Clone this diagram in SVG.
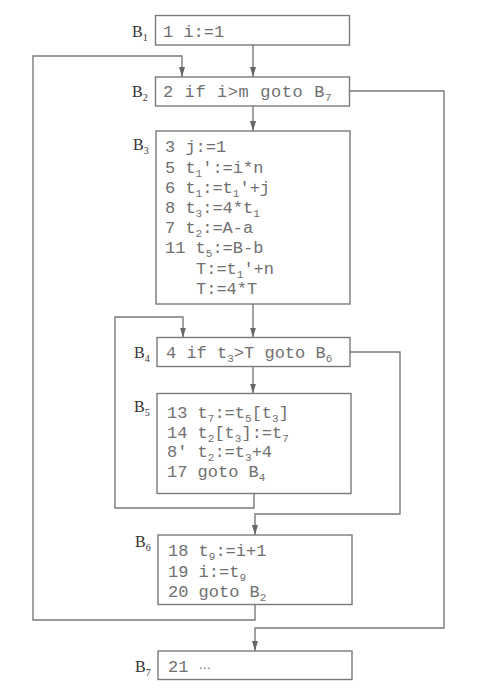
<svg xmlns="http://www.w3.org/2000/svg" width="486" height="688" viewBox="0 0 486 688">
<defs>
<marker id="ah" viewBox="0 0 10 6" refX="10" refY="3" markerWidth="10" markerHeight="6" markerUnits="userSpaceOnUse" orient="auto">
<path d="M0,0 L10,3 L0,6 Z" fill="#666"/>
</marker>
<style>
.box{fill:#fff;stroke:#7a7a7a;stroke-width:1.4}
.c{fill:none;stroke:#7a7a7a;stroke-width:1.4}
.code{font-family:"Liberation Mono","DejaVu Sans Mono",monospace;font-size:17px;fill:#707070}
.lab{font-family:"Liberation Serif","DejaVu Serif",serif;font-size:16px;fill:#333}
.s{font-size:11px;baseline-shift:-4px}
.ls{font-size:10px;baseline-shift:-4px}
.ell{font-family:"DejaVu Sans",sans-serif;font-size:12px}
</style>
</defs>
<rect width="486" height="688" fill="#fff"/>
<g id="connectors">
<path class="c" d="M253,45 V77" marker-end="url(#ah)"/>
<path class="c" d="M255,604.5 V620 H33 V56 H182 V77" marker-end="url(#ah)"/>
<path class="c" d="M253,106 V131" marker-end="url(#ah)"/>
<path class="c" d="M349.5,91 H444 V628 H255 V651" marker-end="url(#ah)"/>
<path class="c" d="M253,304 V337.5" marker-end="url(#ah)"/>
<path class="c" d="M254,493.5 V508 H115 V317 H183 V337.5" marker-end="url(#ah)"/>
<path class="c" d="M253,367 V393.5" marker-end="url(#ah)"/>
<path class="c" d="M350,352 H400 V514 H255 V535" marker-end="url(#ah)"/>
</g>
<g id="B1">
<rect class="box" x="155.5" y="15.5" width="194" height="29.5"/>
<text class="lab" x="132" y="37">B<tspan class="ls">1</tspan></text>
<text class="code" x="163" y="37">1 i:=1</text>
</g>
<g id="B2">
<rect class="box" x="155.5" y="77" width="194" height="29"/>
<text class="lab" x="132" y="97">B<tspan class="ls">2</tspan></text>
<text class="code" x="163" y="97" letter-spacing="0.6">2 if i&gt;m goto B<tspan class="s">7</tspan></text>
</g>
<g id="B3">
<rect class="box" x="156" y="131" width="194" height="173"/>
<text class="lab" x="133" y="150">B<tspan class="ls">3</tspan></text>
<text class="code" x="165" y="152">3 j:=1</text>
<text class="code" x="165" y="172.5">5 t<tspan class="s">1</tspan>':=i*n</text>
<text class="code" x="165" y="192.5">6 t<tspan class="s">1</tspan>:=t<tspan class="s">1</tspan>'+j</text>
<text class="code" x="165" y="213">8 t<tspan class="s">3</tspan>:=4*t<tspan class="s">1</tspan></text>
<text class="code" x="165" y="233">7 t<tspan class="s">2</tspan>:=A-a</text>
<text class="code" x="165" y="253">11 t<tspan class="s">5</tspan>:=B-b</text>
<text class="code" x="196" y="273.5">T:=t<tspan class="s">1</tspan>'+n</text>
<text class="code" x="196" y="294">T:=4*T</text>
</g>
<g id="B4">
<rect class="box" x="157" y="337.5" width="193" height="29"/>
<text class="lab" x="134" y="358">B<tspan class="ls">4</tspan></text>
<text class="code" x="166" y="358">4 if t<tspan class="s">3</tspan>&gt;T goto B<tspan class="s">6</tspan></text>
</g>
<g id="B5">
<rect class="box" x="157" y="393.5" width="194" height="100"/>
<text class="lab" x="134" y="411.5">B<tspan class="ls">5</tspan></text>
<text class="code" x="167" y="418">13 t<tspan class="s">7</tspan>:=t<tspan class="s">5</tspan>[t<tspan class="s">3</tspan>]</text>
<text class="code" x="167" y="437.5">14 t<tspan class="s">2</tspan>[t<tspan class="s">3</tspan>]:=t<tspan class="s">7</tspan></text>
<text class="code" x="167" y="457">8' t<tspan class="s">2</tspan>:=t<tspan class="s">3</tspan>+4</text>
<text class="code" x="167" y="477">17 goto B<tspan class="s">4</tspan></text>
</g>
<g id="B6">
<rect class="box" x="158" y="535" width="194" height="69.5"/>
<text class="lab" x="135" y="547">B<tspan class="ls">6</tspan></text>
<text class="code" x="168" y="556">18 t<tspan class="s">9</tspan>:=i+1</text>
<text class="code" x="168" y="576.5">19 i:=t<tspan class="s">9</tspan></text>
<text class="code" x="168" y="597">20 goto B<tspan class="s">2</tspan></text>
</g>
<g id="B7">
<rect class="box" x="158" y="651" width="194" height="28.5"/>
<text class="lab" x="135" y="671.5">B<tspan class="ls">7</tspan></text>
<text class="code" x="168" y="671.5">21 <tspan class="ell">⋯</tspan></text>
</g>
</svg>
